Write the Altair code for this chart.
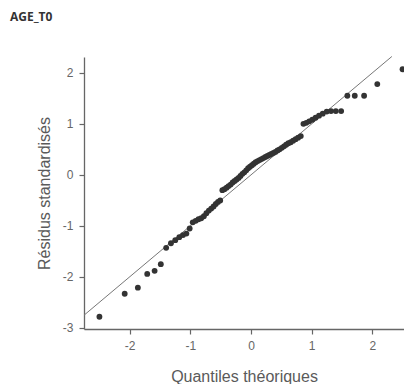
import altair as alt
import pandas as pd

# Theoretical quantiles (x) and standardized residuals (y)
theo = [-2.496, -2.080, -1.863, -1.709, -1.587, -1.485, -1.397, -1.318, -1.247, -1.181,
        -1.120, -1.064, -1.010, -0.959, -0.911, -0.864, -0.820, -0.776, -0.735, -0.694,
        -0.655, -0.616, -0.579, -0.543, -0.507, -0.471, -0.437, -0.402, -0.369, -0.335,
        -0.302, -0.269, -0.237, -0.204, -0.173, -0.141, -0.110, -0.078, -0.047, -0.016,
        0.016, 0.047, 0.078, 0.110, 0.141, 0.173, 0.204, 0.237, 0.269, 0.302,
        0.335, 0.369, 0.402, 0.437, 0.471, 0.507, 0.543, 0.579, 0.616, 0.655,
        0.694, 0.735, 0.776, 0.820, 0.864, 0.911, 0.959, 1.010, 1.064, 1.120,
        1.181, 1.247, 1.318, 1.397, 1.485, 1.587, 1.709, 1.863, 2.080, 2.496]
resid = [-2.78, -2.33, -2.21, -1.94, -1.88, -1.75, -1.43, -1.34, -1.28, -1.22,
         -1.18, -1.15, -1.05, -0.93, -0.90, -0.87, -0.85, -0.81, -0.75, -0.70,
         -0.66, -0.62, -0.57, -0.53, -0.50, -0.30, -0.28, -0.25, -0.22, -0.19,
         -0.15, -0.12, -0.09, -0.06, -0.02, 0.02, 0.05, 0.09, 0.13, 0.16,
         0.19, 0.22, 0.25, 0.27, 0.29, 0.31, 0.33, 0.35, 0.37, 0.39,
         0.41, 0.43, 0.45, 0.48, 0.50, 0.53, 0.56, 0.59, 0.62, 0.64,
         0.67, 0.70, 0.73, 0.76, 1.00, 1.02, 1.05, 1.08, 1.12, 1.16,
         1.20, 1.24, 1.25, 1.25, 1.25, 1.55, 1.55, 1.55, 1.78, 2.07]

# Reference line y = x
line_x = [-2.75, 2.32]
line_y = [-2.75, 2.32]

x_ticks = [-2, -1, 0, 1, 2]
y_ticks = [-3, -2, -1, 0, 1, 2]

pts = pd.DataFrame({"q": theo, "r": resid})
ref = pd.DataFrame({"q": line_x, "r": line_y})

axis_common = dict(
    grid=False,
    domainColor="#666666",
    domainWidth=1.3,
    tickColor="#666666",
    tickSize=5,
    tickWidth=1.2,
    labelFont="Liberation Sans",
    labelFontSize=12,
    labelColor="#666666",
    labelExpr="'' + datum.value",
    titleFont="Liberation Sans",
    titleFontSize=16,
    titleFontWeight="normal",
    titleColor="#5a5a5a",
)

xscale = alt.Scale(domain=[-2.75, 2.52], nice=False, zero=False)
yscale = alt.Scale(domain=[-3.02, 2.31], nice=False, zero=False)

xenc = alt.X("q:Q", scale=xscale, title="Quantiles théoriques",
             axis=alt.Axis(values=x_ticks, labelPadding=6, titlePadding=17, **axis_common))
yenc = alt.Y("r:Q", scale=yscale, title="Résidus standardisés",
             axis=alt.Axis(values=y_ticks, labelPadding=6, titlePadding=10, **axis_common))

line = alt.Chart(ref).mark_line(color="#777777", strokeWidth=1).encode(x=xenc, y=yenc)
dots = alt.Chart(pts).mark_circle(color="#333333", opacity=1, size=34).encode(x="q:Q", y="r:Q")

chart = alt.layer(line, dots).properties(
    width=320,
    height=272,
    autosize=alt.AutoSizeParams(type="none"),
    padding={"left": 76, "top": 49, "right": 0, "bottom": 55},
    title=alt.TitleParams(
        "AGE_T0",
        anchor="start",
        frame="group",
        font="Open Sans",
        fontSize=12,
        fontWeight="bold",
        color="#333333",
        dx=-74,
        offset=30,
    ),
).configure_view(stroke=None)

chart.save("out.html", embed_options={"renderer": "svg", "actions": False})
